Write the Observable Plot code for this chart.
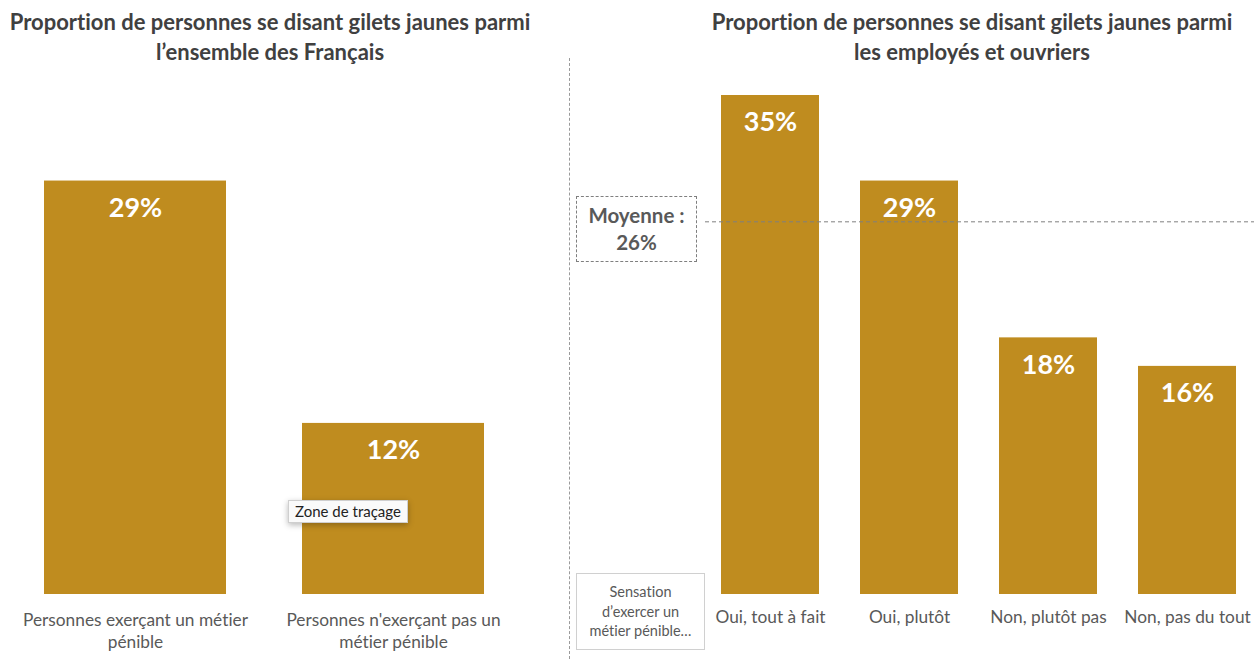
<!DOCTYPE html>
<html>
<head>
<meta charset="utf-8">
<script src="https://cdn.jsdelivr.net/npm/d3@7"></script>
<script src="https://cdn.jsdelivr.net/npm/@observablehq/plot@0.6"></script>
<style>
  html, body { margin: 0; padding: 0; background: #fff; }
  #wrap { position: relative; width: 1254px; height: 659px; overflow: hidden; font-family: Lato, "Open Sans", sans-serif; font-variant-ligatures: none; }
  .title { position: absolute; text-align: center; font-weight: 700; font-size: 22px; line-height: 30px; color: #404040; white-space: nowrap; }
  .panel { position: absolute; top: 0; }
  #sep { position: absolute; left: 569px; top: 58px; height: 601px; border-left: 1px dashed #9a9a9a; }
  #avgBox { position: absolute; left: 576px; top: 196px; width: 119px; height: 64px; border: 1px dashed #7f7f7f;
            display: flex; align-items: center; justify-content: center; text-align: center;
            font-weight: 700; font-size: 20.5px; line-height: 27px; color: #595959; }
  #axisBox { position: absolute; left: 576px; top: 573px; width: 127px; height: 75px; border: 1px solid #d0d0d0;
             display: flex; align-items: center; justify-content: center; text-align: center;
             font-size: 14.5px; line-height: 19.5px; color: #595959; }
  #tip { position: absolute; left: 288px; top: 500px; width: 118px; height: 21px; border: 1px solid #cfcfcf; background: #fafafa;
         box-shadow: 0 2px 6px rgba(0,0,0,0.28); font-size: 15px; line-height: 21px; text-align: center; color: #222; }
</style>
</head>
<body>
<div id="wrap"></div>
<script>
// ---- data ----
const leftTitle = ["Proportion de personnes se disant gilets jaunes parmi", "l’ensemble des Français"];
const rightTitle = ["Proportion de personnes se disant gilets jaunes parmi", "les employés et ouvriers"];
const leftCategories = ["Personnes exerçant un métier pénible", "Personnes n'exerçant pas un métier pénible"];
const leftValues = [29, 12];
const rightCategories = ["Oui, tout à fait", "Oui, plutôt", "Non, plutôt pas", "Non, pas du tout"];
const rightValues = [35, 29, 18, 16];
const averageValue = 26;
const averageLabel = ["Moyenne :", "26%"];
const axisTitle = ["Sensation", "d’exercer un", "métier pénible…"];
const tooltipText = "Zone de traçage";

const barColor = "#BF8C1F";
const wrap = document.getElementById("wrap");

function wrapWords(s, n) {
  const w = s.split(" ");
  if (w.length <= n) return s;
  return w.slice(0, n).join(" ") + "\n" + w.slice(n).join(" ");
}

const leftData = leftCategories.map((c, i) => ({cat: c, value: leftValues[i]}));
const rightData = rightCategories.map((c, i) => ({cat: c, value: rightValues[i]}));

const common = {
  height: 659,
  marginTop: 95,
  marginBottom: 65,
  style: {background: "transparent", fontFamily: "Lato, 'Open Sans', sans-serif", overflow: "visible"},
  y: {domain: [0, 35], axis: null}
};

const leftPlot = Plot.plot({
  ...common,
  width: 530,
  marginLeft: 44,
  marginRight: 46,
  x: {domain: leftCategories, paddingInner: 0.2946, paddingOuter: 0, label: null},
  marks: [
    Plot.barY(leftData, {x: "cat", y: "value", fill: barColor}),
    Plot.text(leftData, {x: "cat", y: "value", text: d => d.value + "%", dy: 27, fill: "white", fontWeight: 700, fontSize: 27}),
    Plot.axisX({tickSize: 0, tickPadding: 16, fontSize: 17.3, fill: "#595959", lineHeight: 1.27,
                tickFormat: d => wrapWords(d, 4), label: null})
  ]
});
leftPlot.classList.add("panel");
leftPlot.style.left = "0px";
wrap.appendChild(leftPlot);

const rightPlot = Plot.plot({
  ...common,
  width: 685,
  marginLeft: 151,
  marginRight: 17,
  x: {domain: rightCategories, paddingInner: 0.2975, paddingOuter: 0, label: null},
  marks: [
    Plot.barY(rightData, {x: "cat", y: "value", fill: barColor}),
    Plot.ruleY([averageValue], {stroke: "#7f7f7f", strokeDasharray: "4,3", strokeWidth: 1, insetLeft: -15, insetRight: -17, dy: -2}),
    Plot.text(rightData, {x: "cat", y: "value", text: d => d.value + "%", dy: 27, fill: "white", fontWeight: 700, fontSize: 27}),
    Plot.axisX({tickSize: 0, tickPadding: 16, fontSize: 17.3, fill: "#595959", label: null})
  ]
});
rightPlot.classList.add("panel");
rightPlot.style.left = "569px";
wrap.appendChild(rightPlot);

function addDiv(cls, id, html, styles) {
  const d = document.createElement("div");
  if (cls) d.className = cls;
  if (id) d.id = id;
  d.innerHTML = html;
  Object.assign(d.style, styles || {});
  wrap.appendChild(d);
  return d;
}
addDiv("title", null, leftTitle.join("<br>"), {left: "0px", width: "540px", top: "7px"});
addDiv("title", null, rightTitle.join("<br>"), {left: "672px", width: "600px", top: "7px"});
addDiv(null, "sep", "");
addDiv(null, "avgBox", "<div>" + averageLabel.join("<br>") + "</div>");
addDiv(null, "axisBox", "<div>" + axisTitle.join("<br>") + "</div>");
addDiv(null, "tip", tooltipText);
</script>
</body>
</html>
